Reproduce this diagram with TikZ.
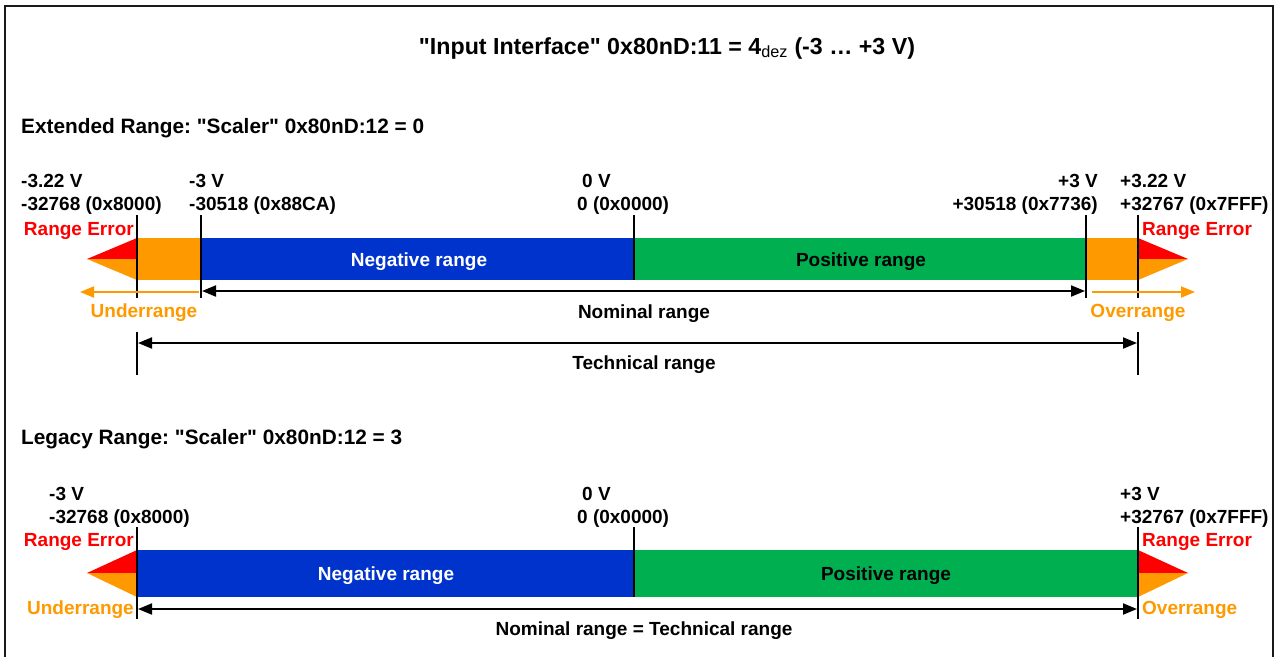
\documentclass[tikz,border=0pt]{standalone}
\usepackage{fontspec}
\newfontfamily\arialbold{Liberation Sans}
\usetikzlibrary{
  arrows.meta,
  positioning
}
\definecolor{negblue}{HTML}{0033CC}
\definecolor{posgreen}{HTML}{00B050}
\definecolor{warnorange}{HTML}{FF9900}
\definecolor{errred}{HTML}{FF0000}
\frenchspacing

\begin{document}
\begin{tikzpicture}[x=1pt, y=-1pt,
  txt/.style={font=\arialbold\fontsize{19}{22.5}\selectfont\bfseries, inner sep=0pt},
  hdr/.style={txt, font=\arialbold\fontsize{20.8}{24}\selectfont\bfseries, anchor=base west},
  val/.style={txt, align=left, anchor=base west},
  valr/.style={txt, align=right, anchor=base east},
  err/.style={txt, errred},
  warn/.style={txt, warnorange},
  tick/.style={line width=2.6pt},
  dim/.style={line width=2pt, {Triangle[length=14pt,width=11pt]}-{Triangle[length=14pt,width=11pt]}},
  warnarrow/.style={line width=2pt, warnorange, -{Triangle[length=14pt,width=11pt]}}
]
  \useasboundingbox (0,0) rectangle (1277,657);
  \draw[line width=2.6pt, black!90] (5,657) -- (5,6) -- (1273,6) -- (1273,657);

  \node[txt, font=\arialbold\fontsize{23.2}{27}\selectfont\bfseries, anchor=base] (title) at (667,54)
    {"Input Interface" 0x80nD:11 = 4\textsubscript{\mdseries dez} (-3 … +3 V)};

  % extended range
  \node[hdr] (exthdr) at (21,133) {Extended Range: "Scaler" 0x80nD:12 = 0};

  \node[val] (extmin) at (21,210) {-3.22 V\\-32768 (0x8000)};
  \node[val] (extnegnom) at (189,210) {-3 V\\-30518 (0x88CA)};
  \node[val] (extzero) at (577,210) {\hspace*{5pt}0 V\\0 (0x0000)};
  \node[valr] (extposnom) at (1098,210) {+3 V\\+30518 (0x7736)};
  \node[val] (extmax) at (1120,210) {+3.22 V\\+32767 (0x7FFF)};

  \fill[warnorange] (137,238) rectangle (201,280);
  \fill[negblue] (201,238) rectangle (634,280);
  \fill[posgreen] (634,238) rectangle (1086,280);
  \fill[warnorange] (1086,238) rectangle (1138,280);
  \fill[errred] (137,238) -- (87,259) -- (137,259) -- cycle;
  \fill[warnorange] (137,259) -- (87,259) -- (137,280) -- cycle;
  \fill[errred] (1138,238) -- (1188,259) -- (1138,259) -- cycle;
  \fill[warnorange] (1138,259) -- (1188,259) -- (1138,280) -- cycle;

  \node[txt, white, anchor=base] (extneg) at (419,266) {Negative range};
  \node[txt, anchor=base] (extpos) at (861,266) {Positive range};
  \node[err, anchor=base east] (exterrl) at (134,235) {Range Error};
  \node[err, anchor=base west] (exterrr) at (1142,235) {Range Error};

  \coordinate (t1a) at (137,215); \coordinate (t1b) at (137,298);
  \coordinate (t1c) at (137,332); \coordinate (t1d) at (137,375);
  \coordinate (t2a) at (201,215); \coordinate (t2b) at (201,298);
  \coordinate (t3a) at (634,215); \coordinate (t3b) at (634,280);
  \coordinate (t4a) at (1086,215); \coordinate (t4b) at (1086,298);
  \coordinate (t5a) at (1138,215); \coordinate (t5b) at (1138,298);
  \coordinate (t5c) at (1138,332); \coordinate (t5d) at (1138,375);
  \draw[tick] (t1a) -- (t1b) (t1c) -- (t1d);
  \draw[tick] (t2a) -- (t2b);
  \draw[tick] (t3a) -- (t3b);
  \draw[tick] (t4a) -- (t4b);
  \draw[tick] (t5a) -- (t5b) (t5c) -- (t5d);

  \coordinate (undS) at (199,292); \coordinate (undE) at (80,292);
  \coordinate (ovrS) at (1092,292); \coordinate (ovrE) at (1195,292);
  \coordinate (nomL) at (202,291); \coordinate (nomR) at (1085,291);
  \coordinate (techL) at (138,343); \coordinate (techR) at (1137,343);
  \draw[warnarrow] (undS) -- (undE);
  \draw[warnarrow] (ovrS) -- (ovrE);
  \draw[dim] (nomL) -- (nomR);
  \draw[dim] (techL) -- (techR);

  \node[warn, anchor=base] (extund) at (144,317) {Underrange};
  \node[txt, anchor=base] (extnom) at (644,318) {Nominal range};
  \node[warn, anchor=base] (extovr) at (1138,317) {Overrange};
  \node[txt, anchor=base] (exttech) at (644,369) {Technical range};

  % legacy range
  \node[hdr] (leghdr) at (21,444) {Legacy Range: "Scaler" 0x80nD:12 = 3};

  \node[val] (legmin) at (49,523) {-3 V\\-32768 (0x8000)};
  \node[val] (legzero) at (577,523) {\hspace*{5pt}0 V\\0 (0x0000)};
  \node[val] (legmax) at (1120,523) {+3 V\\+32767 (0x7FFF)};

  \fill[negblue] (137,550) rectangle (634,597);
  \fill[posgreen] (634,550) rectangle (1138,597);
  \fill[errred] (137,550) -- (87,573) -- (137,573) -- cycle;
  \fill[warnorange] (137,573) -- (87,573) -- (137,597) -- cycle;
  \fill[errred] (1138,550) -- (1188,573) -- (1138,573) -- cycle;
  \fill[warnorange] (1138,573) -- (1188,573) -- (1138,597) -- cycle;

  \node[txt, white, anchor=base] (legneg) at (386,580) {Negative range};
  \node[txt, anchor=base] (legpos) at (886,580) {Positive range};
  \node[err, anchor=base east] (legerrl) at (134,546) {Range Error};
  \node[err, anchor=base west] (legerrr) at (1142,546) {Range Error};
  \node[warn, anchor=base east] (legund) at (134,614) {Underrange};
  \node[warn, anchor=base west] (legovr) at (1142,614) {Overrange};

  \coordinate (l1a) at (137,527); \coordinate (l1b) at (137,619);
  \coordinate (l2a) at (634,527); \coordinate (l2b) at (634,597);
  \coordinate (l3a) at (1138,527); \coordinate (l3b) at (1138,619);
  \draw[tick] (l1a) -- (l1b);
  \draw[tick] (l2a) -- (l2b);
  \draw[tick] (l3a) -- (l3b);

  \coordinate (legL) at (138,609); \coordinate (legR) at (1137,609);
  \draw[dim] (legL) -- (legR);
  \node[txt, anchor=base] (legnom) at (644,635) {Nominal range = Technical range};
\end{tikzpicture}
\end{document}
